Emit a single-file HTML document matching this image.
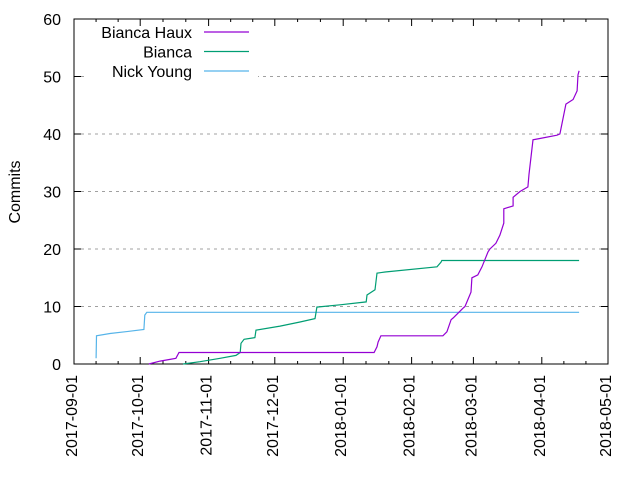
<!DOCTYPE html>
<html><head><meta charset="utf-8"><style>
html,body{margin:0;padding:0;background:#fff}
svg{display:block;font-family:"Liberation Sans",sans-serif}
</style></head><body>
<svg id="chart" width="640" height="480"></svg>
<script>
const xTickLabels=["2017-09-01","2017-10-01","2017-11-01","2017-12-01","2018-01-01","2018-02-01","2018-03-01","2018-04-01","2018-05-01"];
const xTickDays=[0,30,61,91,122,153,181,212,242];
const yTicks=[0,10,20,30,40,50,60];
const seriesNames=["Bianca Haux","Bianca","Nick Young"];
const seriesColors=["#9400d3","#009e73","#56b4e9"];
const hauxDays=[33.9,39,43.5,46.2,47.6,136,137.3,137.8,139.1,167.2,169,170.9,171.8,176.3,177.2,179.9,180.3,183,184.9,187.6,188.5,191.2,193,194.8,194.8,199,199,202.1,205.7,206.2,208,210.8,218.9,220.2,222.9,226.2,228,228.4,228.9];
const hauxValues=[0,0.5,0.8,1,2,2,3,3.8,4.9,4.9,5.6,7.7,8,9.7,10,12.5,15,15.5,16.9,19.5,20,21,22.4,24.5,27,27.5,29,30,30.8,33,39,39.2,39.8,40,45.2,46,47.5,50.3,51];
const biancaDays=[49.4,57.1,66.2,73.4,75.3,75.7,77.1,82,82.5,93.4,102.4,109.2,110.1,120.6,132.4,132.8,136.4,137.3,141,164.5,166.3,166.7,228.9];
const biancaValues=[0,0.4,1,1.5,2,3.6,4.3,4.6,5.9,6.6,7.3,7.9,9.9,10.3,10.8,12,12.9,15.8,16,16.9,17.7,18,18];
const nickDays=[10,10.2,16.3,25.4,31.7,32.1,33,228.9];
const nickValues=[1,4.9,5.3,5.7,6,8.5,9,9];

const L=74,R=608,T=19,B=364,NS="http://www.w3.org/2000/svg";
const xS=d=>L+d*(R-L)/242;
const yS=v=>B-v*(B-T)/60;
const svg=document.getElementById('chart');
function mk(tag,attrs,parent){const e=document.createElementNS(NS,tag);for(const k in attrs)e.setAttribute(k,attrs[k]);(parent||svg).appendChild(e);return e;}

yTicks.forEach(v=>{if(v===0||v===60)return;
 const g=mk('line',{x1:L,x2:R,y1:yS(v),y2:yS(v),stroke:'#a0a0a0','stroke-dasharray':'3,4','stroke-width':1});
 
 });
const lb=mk('rect',{x:84,y:20,width:174,height:64,fill:'#fff'});



yTicks.forEach(v=>{
 const t1=mk('line',{x1:L,x2:L+7,y1:yS(v),y2:yS(v),stroke:'#000'});
 
 
 const t2=mk('line',{x1:R,x2:R-7,y1:yS(v),y2:yS(v),stroke:'#000'});
 
 
 const tx=mk('text',{x:61,y:yS(v)+6,'text-anchor':'end','font-size':16,fill:'#000'});
 tx.textContent=v;
 
 
});
xTickDays.forEach((d,i)=>{
 const x=xS(d);
 const a=mk('line',{x1:x,x2:x,y1:B,y2:B-7,stroke:'#000'});
 
 
 const b=mk('line',{x1:x,x2:x,y1:T,y2:T+7,stroke:'#000'});
 
 
 if(i<xTickDays.length-1){const span=xTickDays[i+1]-d;
  [1,2].forEach(k=>{const mx=xS(d+span*k/3);
   const m1=mk('line',{x1:mx,x2:mx,y1:B,y2:B-3,stroke:'#000'});
   
   
   const m2=mk('line',{x1:mx,x2:mx,y1:T,y2:T+3,stroke:'#000'});
   
   });}
 const tx=mk('text',{x:0,y:0,'text-anchor':'end','font-size':16,fill:'#000',transform:`translate(${x+3},${B+11}) rotate(-90)`});
 tx.textContent=xTickLabels[i];
 
 
});
const bd=mk('rect',{x:L,y:T,width:R-L,height:B-T,fill:'none',stroke:'#000','stroke-width':1});


const yt=mk('text',{x:0,y:0,'text-anchor':'middle','font-size':16,transform:'translate(20,192) rotate(-90)'});
yt.textContent='Commits';



const allDays=[hauxDays,biancaDays,nickDays],allVals=[hauxValues,biancaValues,nickValues];
const sNames=['series-bianca-haux','series-bianca','series-nick-young'];
[2,1,0].forEach(s=>{
 const pts=allDays[s].map((d,i)=>xS(d).toFixed(1)+','+yS(allVals[s][i]).toFixed(1)).join(' ');
 const p=mk('polyline',{points:pts,fill:'none',stroke:seriesColors[s],'stroke-width':1.2});
 
 
});
seriesNames.forEach((n,i)=>{
 const y=32+i*19.5;
 const t=mk('text',{x:192,y:y+6,'text-anchor':'end','font-size':16});
 t.textContent=n;
 
 
 const l=mk('line',{x1:204,x2:249,y1:y,y2:y,stroke:seriesColors[i],'stroke-width':1.2});
 
 
});
</script>
</body></html>
